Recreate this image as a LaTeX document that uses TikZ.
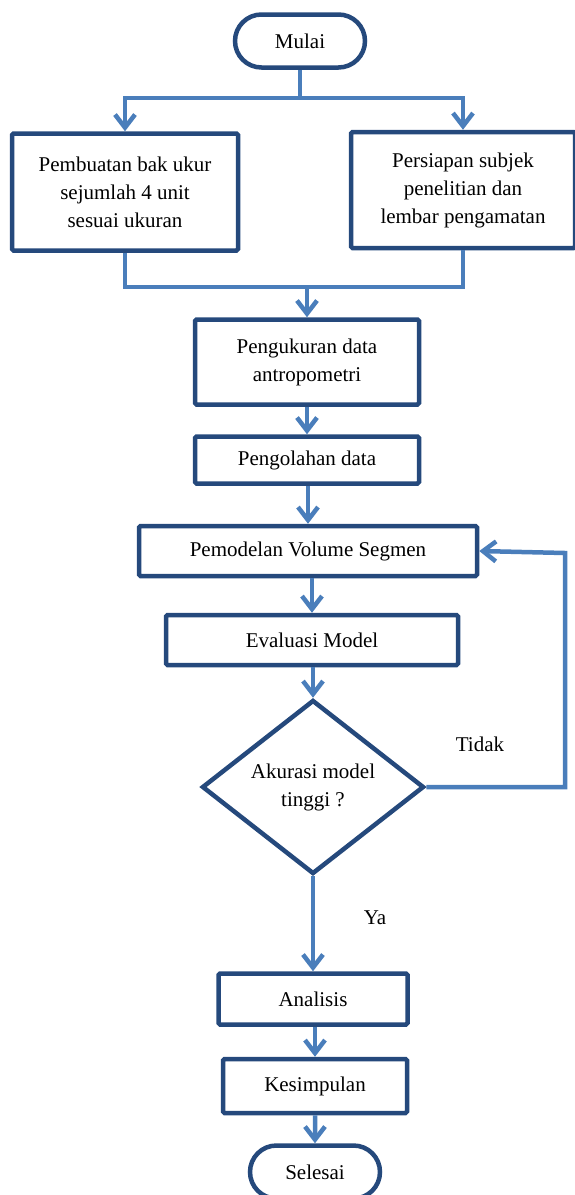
\documentclass[tikz,border=0pt]{standalone}
\usepackage{fontspec}
\setmainfont{Liberation Serif}
\usetikzlibrary{arrows.meta}
\usetikzlibrary{shapes}
\usetikzlibrary{calc}

\definecolor{box_navy}{HTML}{25497C}
\definecolor{flow_blue}{HTML}{4A7EBB}

\begin{document}
\begin{tikzpicture}[x=1pt, y=-1pt, font=\fontsize{21}{28}\selectfont,
        term_style/.style={rounded rectangle, draw=box_navy, line width=4.5pt, fill=white, inner sep=0pt, minimum width=130pt, minimum height=53pt},
        box_style/.style={rectangle, draw=box_navy, line width=4.5pt, fill=white, rounded corners=1.5pt, align=center, inner sep=0pt},
        decision_style/.style={diamond, draw=box_navy, line width=4.5pt, fill=white, align=center, inner sep=0pt, aspect=1.26, minimum width=222pt, minimum height=174pt},
        line_style/.style={draw=flow_blue, line width=4.5pt},
        edge_style/.style={draw=flow_blue, line width=4.5pt, -{Straight Barb[length=13pt,width=20pt]}},
        label_style/.style={inner sep=0pt}]

        \useasboundingbox (0,0) rectangle (575,1195);

        \node [term_style](start) at (300,41) {Mulai};

        \node [box_style, minimum width=226pt, minimum height=117pt](bak) at (125,192) {Pembuatan bak ukur\\sejumlah 4 unit\\sesuai ukuran};

        \node [box_style, minimum width=224pt, minimum height=116pt](subjek) at (463,190) {Persiapan subjek\\penelitian dan\\lembar pengamatan};

        \node [box_style, minimum width=224pt, minimum height=85pt](ukur) at (307,362) {Pengukuran data\\antropometri};

        \node [box_style, minimum width=224pt, minimum height=47pt](olah) at (307,460) {Pengolahan data};

        \node [box_style, minimum width=338pt, minimum height=50pt](model) at (308,551) {Pemodelan Volume Segmen};

        \node [box_style, minimum width=292pt, minimum height=50pt](eval) at (312,640) {Evaluasi Model};

        \node [decision_style](check) at (313,787) {Akurasi model\\tinggi ?};

        \node [box_style, minimum width=189pt, minimum height=51pt](analisis) at (313,999) {Analisis};

        \node [box_style, minimum width=184pt, minimum height=54pt](simpul) at (315,1086) {Kesimpulan};

        \node [term_style](finish) at (315,1172) {Selesai};

        \node [label_style](tidak) at (480,744) {Tidak};

        \node [label_style](ya) at (375,918) {Ya};

        \coordinate (split) at (300,98);
        \coordinate (merge) at (307,287);
        \coordinate (back) at (565,553);

        \draw [line_style] (start) -- (split);

        \draw [edge_style] (split) -| (bak);

        \draw [edge_style] (split) -| (subjek);

        \draw [line_style] (bak.south) |- (merge) -| (subjek.south);

        \draw [edge_style] (merge) -- (ukur);

        \draw [edge_style] (ukur) -- (olah);

        \draw [edge_style] (olah.south -| model) -- (model);

        \draw [edge_style] (model.south -| eval) -- (eval);

        \draw [edge_style] (eval.south -| check) -- (check);

        \draw [edge_style] (check.east) -| (back) -- (model.east);

        \draw [edge_style] (check) -- (analisis);

        \draw [edge_style] (analisis.south -| simpul) -- (simpul);

        \draw [edge_style] (simpul.south -| finish) -- (finish);

        \end{tikzpicture}
\end{document}
